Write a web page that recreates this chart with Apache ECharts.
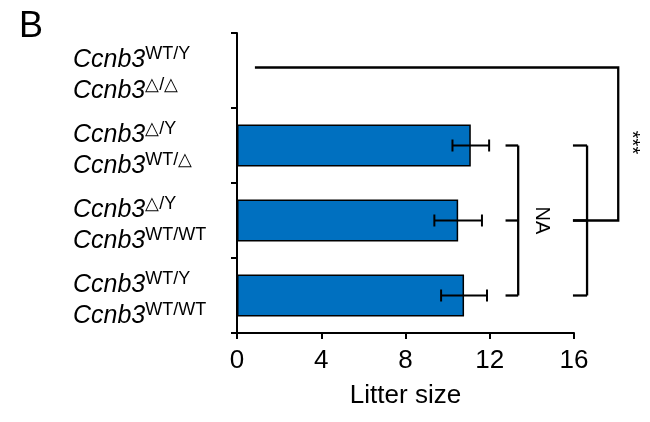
<!DOCTYPE html>
<html>
<head>
<meta charset="utf-8">
<script src="https://cdn.jsdelivr.net/npm/echarts@6/dist/echarts.min.js"></script>
<style>
html,body{margin:0;padding:0;background:#fff;}
#chart{width:650px;height:422px;}
</style>
</head>
<body>
<div id="chart"></div>
<script>
// ---- data (top to bottom) ----
var gene = 'Ccnb3';
var maleGenotype   = ['WT/Y', '\u25B3/Y', '\u25B3/Y', 'WT/Y'];
var femaleGenotype = ['\u25B3/\u25B3', 'WT/\u25B3', 'WT/WT', 'WT/WT'];
var categories = ['WT/Y x \u25B3/\u25B3', '\u25B3/Y x WT/\u25B3', '\u25B3/Y x WT/WT', 'WT/Y x WT/WT'];
var litterMean = [0, 11.1, 10.5, 10.78];
var litterErr  = [0, 0.87, 1.13, 1.09];
var xTicks = [0, 4, 8, 12, 16];
var axisTitle = 'Litter size';
var panelLetter = 'B';
// significance annotations (value units / category indices)
var naBracket  = {tickFrom: 12.75, spine: 13.35, cats: [1, 2, 3], label: 'NA', labelX: 14.48, labelCat: 2};
var allBracket = {tickFrom: 15.95, spine: 16.62, cats: [1, 2, 3]};
var topLink    = {from: 0.85, to: 18.1, topCat: 0, joinCat: 2, label: '***', labelX: 18.75, labelCat: 1};

var chart = echarts.init(document.getElementById('chart'));
var FONT = '"Liberation Sans", Arial, sans-serif';

var errData = litterMean.map(function (v, i) { return [v, i, litterErr[i]]; });

option = {
  animation: false,
  backgroundColor: '#fff',
  grid: {left: 237, right: 76, top: 33, bottom: 89, containLabel: false},
  graphic: [{
    type: 'text', left: 19, top: 9,
    style: {text: panelLetter, font: '36px ' + FONT, fill: '#000'}
  }],
  xAxis: {
    type: 'value', min: xTicks[0], max: xTicks[xTicks.length - 1], interval: 4,
    splitLine: {show: false},
    axisLine: {show: true, lineStyle: {color: '#000', width: 2}},
    axisTick: {show: true, length: 6, lineStyle: {color: '#000', width: 2}},
    axisLabel: {color: '#000', fontSize: 26, fontFamily: FONT, margin: 15},
    name: axisTitle, nameLocation: 'middle', nameGap: 50,
    nameTextStyle: {color: '#000', fontSize: 26, fontFamily: FONT}
  },
  yAxis: {
    type: 'category', inverse: true, data: categories,
    axisLine: {show: true, lineStyle: {color: '#000', width: 2}},
    axisTick: {show: true, length: 6, lineStyle: {color: '#000', width: 2}},
    axisLabel: {
      align: 'left', margin: 164, color: '#000', padding: [11, 0, 0, 0],
      formatter: function (val, idx) {
        return '{i|' + gene + '}{s|' + maleGenotype[idx] + '}\n{i|' + gene + '}{s|' + femaleGenotype[idx] + '}';
      },
      rich: {
        i: {fontSize: 25, fontStyle: 'italic', fontFamily: FONT, color: '#000', lineHeight: 31},
        s: {fontSize: 18, fontFamily: FONT, color: '#000', verticalAlign: 'top', lineHeight: 22}
      }
    }
  },
  series: [
    {
      type: 'bar', data: litterMean, barWidth: 42,
      itemStyle: {color: '#0070C0', borderColor: '#000', borderWidth: 1.5},
      silent: true
    },
    {
      type: 'custom', data: errData, clip: false, silent: true, z: 5,
      encode: {x: 0, y: 1},
      renderItem: function (params, api) {
        var v = api.value(0), c = api.value(1), e = api.value(2);
        var lo = api.coord([v - e, c]), hi = api.coord([v + e, c]);
        var h = 6;
        var st = {stroke: '#000', lineWidth: 2};
        return {type: 'group', children: [
          {type: 'line', shape: {x1: lo[0], y1: lo[1], x2: hi[0], y2: hi[1]}, style: st},
          {type: 'line', shape: {x1: lo[0], y1: lo[1] - h, x2: lo[0], y2: lo[1] + h}, style: st},
          {type: 'line', shape: {x1: hi[0], y1: hi[1] - h, x2: hi[0], y2: hi[1] + h}, style: st}
        ]};
      }
    },
    {
      type: 'custom', data: [[0, 0]], clip: false, silent: true, z: 6,
      encode: {x: 0, y: 1},
      renderItem: function (params, api) {
        var st = {stroke: '#000', lineWidth: 2.3, fill: null};
        var ch = [];
        function bracket(b) {
          var pts = b.cats.map(function (c) { return api.coord([b.tickFrom, c]); });
          var sx = api.coord([b.spine, 0])[0];
          pts.forEach(function (p) {
            ch.push({type: 'line', shape: {x1: p[0], y1: p[1], x2: sx, y2: p[1]}, style: st});
          });
          ch.push({type: 'line', shape: {x1: sx, y1: pts[0][1], x2: sx, y2: pts[pts.length - 1][1]}, style: st});
        }
        bracket(naBracket);
        bracket(allBracket);
        var a = api.coord([topLink.from, topLink.topCat]);
        var b = api.coord([topLink.to, topLink.topCat]);
        var j = api.coord([allBracket.tickFrom, topLink.joinCat]);
        var jt = api.coord([topLink.to, topLink.joinCat]);
        ch.push({type: 'polyline', shape: {points: [[a[0], a[1] - 3], [b[0], b[1] - 3], [jt[0], jt[1]], [j[0], j[1]]]}, style: st});
        var np = api.coord([naBracket.labelX, naBracket.labelCat]);
        ch.push({type: 'text', x: np[0], y: np[1], rotation: -Math.PI / 2,
          style: {text: naBracket.label, font: '20px ' + FONT, fill: '#000', align: 'center', verticalAlign: 'middle'}});
        var sp = api.coord([topLink.labelX, topLink.labelCat]);
        ch.push({type: 'text', x: sp[0], y: sp[1] - 3, rotation: -Math.PI / 2,
          style: {text: topLink.label, font: '20px ' + FONT, fill: '#000', align: 'center', verticalAlign: 'middle'}});
        return {type: 'group', children: ch};
      }
    }
  ]
};
chart.setOption(option);
</script>
</body>
</html>
